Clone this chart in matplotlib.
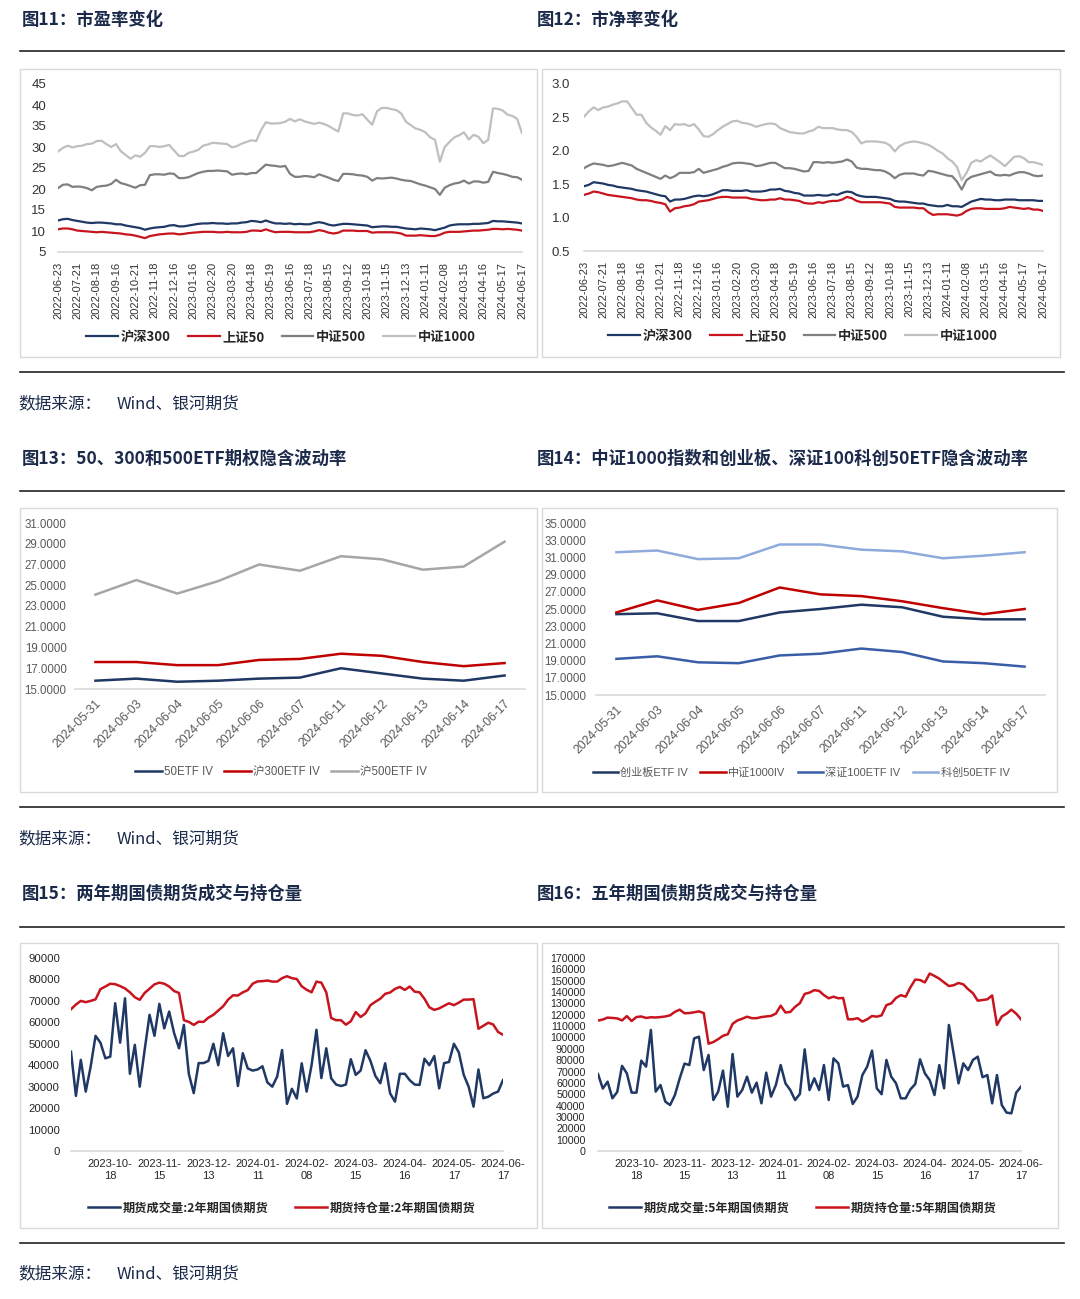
import matplotlib
matplotlib.use('Agg')
import matplotlib.pyplot as plt
from matplotlib.patches import Rectangle
from matplotlib.lines import Line2D
import numpy as np

W, H = 1080, 1299
plt.rcParams['font.family'] = ['Liberation Sans', 'Noto Sans CJK SC', 'DejaVu Sans']
CJK = ['Noto Sans CJK SC', 'DejaVu Sans']
SANS = ['Liberation Sans', 'Noto Sans CJK SC']

# ---------------- data ----------------
val_dates = ['2022-06-23', '2022-07-21', '2022-08-18', '2022-09-16', '2022-10-21', '2022-11-18',
             '2022-12-16', '2023-01-16', '2023-02-20', '2023-03-20', '2023-04-18', '2023-05-19',
             '2023-06-16', '2023-07-18', '2023-08-15', '2023-09-12', '2023-10-18', '2023-11-15',
             '2023-12-13', '2024-01-11', '2024-02-08', '2024-03-15', '2024-04-16', '2024-05-17',
             '2024-06-17']
val_day = list(range(0, 481, 5))   # trading-day index of each sample
val_tick_day = list(range(0, 481, 20))

pe_hs300 = [12.5, 12.8, 12.9, 12.6, 12.4, 12.2, 12.0, 11.9, 12.0, 12.0,
            11.9, 11.8, 11.6, 11.6, 11.3, 11.1, 10.9, 10.7, 10.3, 10.6,
            10.8, 10.9, 11.0, 11.3, 11.4, 11.1, 11.1, 11.3, 11.5, 11.7,
            11.8, 11.8, 11.9, 11.8, 11.8, 11.7, 11.8, 11.8, 12.0, 12.1,
            12.4, 12.3, 12.1, 12.5, 12.1, 11.8, 11.8, 11.7, 11.8, 11.6,
            11.7, 11.6, 11.6, 11.9, 12.1, 11.9, 11.5, 11.3, 11.5, 11.7,
            11.7, 11.6, 11.5, 11.4, 11.3, 10.9, 11.0, 11.1, 11.1, 11.0,
            11.0, 10.8, 10.6, 10.5, 10.4, 10.6, 10.5, 10.4, 10.2, 10.5,
            10.8, 11.3, 11.5, 11.6, 11.6, 11.6, 11.7, 11.7, 11.8, 11.9,
            12.4, 12.3, 12.3, 12.2, 12.1, 12.0, 11.8]
pe_sz50 = [10.4, 10.6, 10.6, 10.4, 10.1, 10.0, 9.9, 9.8, 9.7, 9.8,
           9.7, 9.6, 9.5, 9.4, 9.2, 9.1, 8.9, 8.6, 8.3, 8.8,
           9.0, 9.2, 9.3, 9.4, 9.4, 9.2, 9.3, 9.5, 9.6, 9.7,
           9.8, 9.8, 9.8, 9.7, 9.7, 9.8, 9.7, 9.7, 9.7, 9.8,
           10.1, 10.1, 10.0, 10.4, 10.0, 9.7, 9.8, 9.8, 9.8, 9.7,
           9.7, 9.7, 9.7, 9.9, 10.2, 10.0, 9.6, 9.4, 9.6, 10.1,
           10.1, 10.1, 10.0, 10.0, 10.0, 9.6, 9.7, 9.7, 9.7, 9.7,
           9.6, 9.4, 8.9, 8.9, 8.9, 9.0, 8.9, 8.8, 8.8, 9.1,
           9.6, 9.8, 9.8, 9.8, 9.9, 10.0, 10.1, 10.1, 10.2, 10.3,
           10.5, 10.5, 10.4, 10.5, 10.4, 10.3, 10.1]
pe_zz500 = [20.2, 21.0, 21.1, 20.5, 20.6, 20.5, 20.2, 19.7, 20.5, 20.7,
            20.8, 21.2, 22.2, 21.4, 21.1, 20.7, 20.3, 20.9, 21.0, 23.3,
            23.5, 23.5, 23.4, 23.7, 23.6, 22.6, 22.6, 22.8, 23.3, 23.8,
            24.1, 24.3, 24.3, 24.4, 24.3, 24.2, 23.4, 23.6, 23.7, 23.5,
            23.8, 23.8, 24.8, 25.8, 25.6, 25.5, 25.3, 25.5, 23.6, 22.9,
            22.9, 23.1, 23.0, 22.8, 23.5, 23.1, 22.7, 22.2, 21.9, 23.6,
            23.6, 23.5, 23.3, 23.2, 22.9, 22.0, 22.6, 22.5, 22.6, 22.7,
            22.5, 22.2, 22.0, 21.9, 21.5, 21.1, 20.8, 20.4, 20.0, 18.6,
            20.3, 20.9, 21.3, 21.5, 22.0, 21.3, 21.8, 21.8, 21.5, 21.7,
            24.1, 23.8, 23.6, 23.3, 22.9, 22.8, 22.2]
pe_zz1000 = [28.9, 29.8, 30.3, 29.9, 30.2, 30.3, 30.7, 30.8, 31.4, 31.5,
             30.7, 30.0, 30.7, 29.0, 28.1, 27.2, 28.0, 27.7, 28.6, 30.2,
             30.2, 30.0, 30.2, 30.5, 29.2, 27.9, 27.8, 28.6, 28.9, 29.3,
             30.3, 30.6, 31.0, 30.9, 30.8, 30.7, 29.9, 30.2, 30.8, 31.2,
             31.6, 31.4, 34.0, 35.9, 35.6, 35.6, 35.7, 36.0, 36.7, 36.1,
             36.6, 36.1, 35.8, 35.5, 35.8, 35.5, 35.0, 34.3, 33.7, 38.0,
             38.0, 37.6, 37.5, 37.8, 36.5, 35.3, 38.5, 39.3, 39.3, 39.0,
             38.8, 38.0, 36.0, 35.2, 34.4, 34.1, 33.5, 32.3, 31.7, 26.5,
             30.0, 31.2, 32.3, 32.8, 33.5, 31.8, 32.9, 32.4, 30.9, 31.7,
             39.2, 39.1, 38.7, 37.7, 37.4, 36.7, 33.3]

pb_hs300 = [1.47, 1.49, 1.53, 1.52, 1.51, 1.49, 1.48, 1.46, 1.45, 1.44,
            1.43, 1.41, 1.40, 1.39, 1.37, 1.35, 1.33, 1.32, 1.24, 1.27,
            1.27, 1.28, 1.30, 1.32, 1.33, 1.32, 1.33, 1.35, 1.38, 1.41,
            1.41, 1.40, 1.40, 1.40, 1.41, 1.39, 1.39, 1.39, 1.40, 1.42,
            1.42, 1.43, 1.40, 1.39, 1.37, 1.36, 1.33, 1.33, 1.33, 1.34,
            1.33, 1.33, 1.35, 1.34, 1.37, 1.39, 1.38, 1.34, 1.32, 1.31,
            1.31, 1.31, 1.30, 1.29, 1.28, 1.25, 1.24, 1.24, 1.23, 1.22,
            1.21, 1.21, 1.19, 1.18, 1.17, 1.17, 1.19, 1.17, 1.17, 1.16,
            1.20, 1.24, 1.26, 1.28, 1.27, 1.27, 1.26, 1.26, 1.27, 1.27,
            1.27, 1.26, 1.26, 1.26, 1.26, 1.25, 1.25]
pb_sz50 = [1.34, 1.36, 1.39, 1.38, 1.36, 1.34, 1.33, 1.32, 1.31, 1.30,
           1.29, 1.27, 1.26, 1.26, 1.25, 1.23, 1.22, 1.20, 1.09, 1.14,
           1.15, 1.17, 1.18, 1.20, 1.24, 1.25, 1.26, 1.28, 1.30, 1.31,
           1.31, 1.30, 1.30, 1.30, 1.30, 1.28, 1.27, 1.26, 1.26, 1.27,
           1.27, 1.29, 1.27, 1.27, 1.26, 1.25, 1.22, 1.21, 1.21, 1.23,
           1.22, 1.24, 1.25, 1.25, 1.27, 1.31, 1.29, 1.25, 1.23, 1.23,
           1.23, 1.23, 1.23, 1.22, 1.21, 1.16, 1.15, 1.15, 1.15, 1.15,
           1.14, 1.14, 1.08, 1.04, 1.05, 1.05, 1.05, 1.04, 1.03, 1.05,
           1.10, 1.13, 1.14, 1.14, 1.13, 1.13, 1.13, 1.13, 1.14, 1.16,
           1.15, 1.14, 1.13, 1.14, 1.12, 1.12, 1.10]
pb_zz500 = [1.74, 1.78, 1.81, 1.80, 1.79, 1.77, 1.78, 1.80, 1.82, 1.80,
            1.78, 1.73, 1.70, 1.67, 1.64, 1.61, 1.58, 1.63, 1.59, 1.62,
            1.67, 1.67, 1.67, 1.68, 1.73, 1.67, 1.69, 1.71, 1.73, 1.76,
            1.78, 1.81, 1.82, 1.82, 1.81, 1.80, 1.77, 1.78, 1.80, 1.82,
            1.82, 1.78, 1.74, 1.74, 1.73, 1.71, 1.69, 1.70, 1.83, 1.83,
            1.82, 1.83, 1.82, 1.83, 1.84, 1.87, 1.84, 1.75, 1.73, 1.73,
            1.72, 1.71, 1.71, 1.69, 1.65, 1.59, 1.64, 1.66, 1.66, 1.66,
            1.64, 1.63, 1.70, 1.69, 1.67, 1.65, 1.63, 1.62, 1.54, 1.42,
            1.56, 1.61, 1.63, 1.65, 1.67, 1.69, 1.64, 1.63, 1.64, 1.63,
            1.66, 1.68, 1.68, 1.66, 1.63, 1.62, 1.63]
pb_zz1000 = [2.51, 2.59, 2.65, 2.61, 2.65, 2.66, 2.69, 2.71, 2.74, 2.74,
             2.64, 2.54, 2.54, 2.42, 2.35, 2.30, 2.24, 2.37, 2.31, 2.40,
             2.39, 2.40, 2.37, 2.40, 2.32, 2.22, 2.21, 2.25, 2.31, 2.36,
             2.40, 2.44, 2.45, 2.42, 2.41, 2.39, 2.36, 2.38, 2.40, 2.41,
             2.40, 2.34, 2.31, 2.28, 2.27, 2.26, 2.26, 2.29, 2.31, 2.36,
             2.34, 2.34, 2.34, 2.32, 2.31, 2.31, 2.28, 2.21, 2.11, 2.14,
             2.14, 2.14, 2.13, 2.12, 2.08, 1.99, 2.07, 2.11, 2.13, 2.14,
             2.13, 2.11, 2.09, 2.05, 2.00, 1.96, 1.89, 1.84, 1.76, 1.56,
             1.67, 1.82, 1.86, 1.84, 1.89, 1.93, 1.88, 1.83, 1.77, 1.84,
             1.91, 1.92, 1.89, 1.83, 1.83, 1.81, 1.79]

iv_dates = ['2024-05-31', '2024-06-03', '2024-06-04', '2024-06-05', '2024-06-06', '2024-06-07',
            '2024-06-11', '2024-06-12', '2024-06-13', '2024-06-14', '2024-06-17']
iv_50 = [15.8, 16.0, 15.7, 15.8, 16.0, 16.1, 17.0, 16.5, 16.0, 15.8, 16.3]
iv_300 = [17.6, 17.6, 17.3, 17.3, 17.8, 17.9, 18.4, 18.2, 17.6, 17.2, 17.5]
iv_500 = [24.1, 25.5, 24.2, 25.4, 27.0, 26.4, 27.8, 27.5, 26.5, 26.8, 29.2]
iv_cyb = [24.4, 24.5, 23.6, 23.6, 24.6, 25.0, 25.5, 25.2, 24.1, 23.8, 23.8]
iv_zz1000 = [24.6, 26.0, 24.9, 25.7, 27.5, 26.7, 26.5, 25.9, 25.1, 24.4, 25.0]
iv_sz100 = [19.2, 19.5, 18.8, 18.7, 19.6, 19.8, 20.4, 20.0, 18.9, 18.7, 18.3]
iv_kc50 = [31.6, 31.8, 30.8, 30.9, 32.5, 32.5, 31.9, 31.7, 30.9, 31.2, 31.6]

bond_day = list(range(0, 177, 2))   # trading-day index of each sample
bond_tick_day = [16, 36, 56, 76, 96, 116, 136, 156, 176]
bond_tick_labels = ['2023-10-\n18', '2023-11-\n15', '2023-12-\n13', '2024-01-\n11', '2024-02-\n08',
                    '2024-03-\n15', '2024-04-\n16', '2024-05-\n17', '2024-06-\n17']
vol2 = [46300, 25700, 42500, 27700, 39300, 53700, 50500, 43200, 44000, 68900,
        50500, 71200, 36000, 49500, 30000, 47100, 63500, 53700, 68600, 57200,
        65000, 55000, 47900, 58800, 36000, 27000, 41000, 41000, 42000, 50000,
        40000, 54900, 44300, 47900, 30300, 45600, 38500, 37500, 38000, 39500,
        32000, 30000, 34700, 47100, 22000, 29000, 24500, 40900, 27700, 40000,
        56500, 34000, 47900, 33900, 31000, 30300, 31000, 42800, 35500, 37500,
        47000, 42000, 35000, 31600, 40900, 26900, 23000, 36000, 36000, 33000,
        31000, 30800, 43000, 40000, 44300, 29200, 41000, 41500, 50000, 46000,
        35500, 30000, 20700, 38000, 24600, 25300, 26800, 27700, 33100]
oi2 = [66100, 68300, 70000, 69400, 70000, 70700, 75500, 76700, 78000, 77800,
       76900, 75800, 74000, 71700, 70500, 73700, 75700, 77700, 78500, 78000,
       76700, 74600, 73700, 61000, 60200, 58800, 60300, 60200, 62200, 63500,
       65500, 67500, 70600, 72600, 72500, 74000, 75000, 78000, 79100, 79200,
       79500, 79000, 79000, 80600, 81500, 80600, 80200, 76800, 75200, 74000,
       79000, 78500, 74000, 62000, 61000, 61000, 58900, 60500, 64800, 62500,
       64200, 68000, 69600, 71000, 73300, 73900, 75600, 76500, 75100, 76700,
       74300, 74000, 71000, 67000, 65800, 66500, 67700, 68900, 68000, 69200,
       70600, 70600, 70800, 57000, 58400, 59800, 59000, 55500, 54200]
vol5 = [67800, 55000, 61100, 46400, 52000, 75000, 68400, 51400, 51400, 79600,
        74300, 106600, 52300, 58100, 43500, 40500, 49300, 64000, 77000, 75700,
        99200, 100700, 71300, 84600, 44900, 52300, 70800, 39000, 85400, 47900,
        53700, 65500, 51400, 60200, 42000, 69000, 47900, 58100, 75700, 59600,
        53700, 44900, 50200, 89500, 53700, 64000, 53700, 75700, 44900, 81600,
        77200, 56700, 58100, 41400, 47900, 66900, 74300, 88400, 55200, 50000,
        80200, 65500, 59600, 46400, 46400, 54300, 59000, 80700, 68400, 62500,
        49300, 75700, 55200, 111000, 85400, 59600, 77200, 71300, 80200, 83100,
        65000, 66900, 42000, 66900, 40500, 33800, 33200, 51400, 56700]
oi5 = [114900, 115800, 117500, 117200, 116800, 115000, 118800, 114500, 118000, 118500,
       117200, 117800, 117600, 118000, 118500, 119500, 122600, 124500, 121300, 121500,
       122200, 123000, 121500, 94500, 96000, 98500, 101500, 102800, 112000, 115000,
       116500, 118300, 117000, 117000, 118000, 118500, 119000, 121000, 128000, 122000,
       122500, 127000, 130200, 138400, 139500, 141700, 141000, 137300, 134500, 135900,
       134500, 134800, 116000, 116000, 117000, 114000, 116000, 118900, 118300, 119500,
       128500, 130000, 134800, 137300, 135900, 144200, 151000, 150600, 148500, 156300,
       154200, 151800, 148500, 145300, 146000, 148000, 146800, 142500, 139000, 132400,
       133000, 133600, 137000, 111000, 118500, 121000, 124500, 121000, 116000]

# ---------------- styling ----------------
NAVY = '#1F3864'
RED = '#C8141E'
GRAY5 = '#7F7F7F'
GRAY10 = '#BFBFBF'
TITLE_C = '#1B2A4A'
AXIS_C = '#D9D9D9'

fig = plt.figure(figsize=(10.8, 12.99), dpi=100)


def fy(y):
    return 1 - y / H


def add_ax(l, t, r, b):
    ax = fig.add_axes([l / W, 1 - b / H, (r - l) / W, (b - t) / H])
    for s in ['top', 'right', 'left']:
        ax.spines[s].set_visible(False)
    ax.spines['bottom'].set_color(AXIS_C)
    ax.spines['bottom'].set_linewidth(1.2)
    ax.tick_params(length=0)
    ax.patch.set_alpha(0)
    return ax


def box(l, t, r, b):
    fig.add_artist(Rectangle((l / W, 1 - b / H), (r - l) / W, (b - t) / H,
                             transform=fig.transFigure, fill=False, ec=AXIS_C, lw=1.0))


def hline(y, lw=1.2):
    fig.add_artist(Line2D([20 / W, 1064 / W], [fy(y), fy(y)], color='#222222', lw=lw))


def title(x, y, s):
    fig.text(x / W, fy(y), s, fontsize=12.5, fontweight='bold', color=TITLE_C,
             family=CJK, va='center', ha='left')


def source(y):
    fig.text(18 / W, fy(y), '数据来源：', fontsize=12, color=TITLE_C, family=CJK, va='center')
    fig.text(117 / W, fy(y), 'Wind、银河期货', fontsize=12, color=TITLE_C, family=CJK, va='center')


def legend(ax, cx, cy, fs, weight='normal', color='#262626', fam=CJK, hl=2.3, cs=1.4, ncol=4):
    leg = ax.legend(loc='center', bbox_to_anchor=(cx / W, fy(cy)), bbox_transform=fig.transFigure,
                    ncol=ncol, frameon=False, handlelength=hl, handletextpad=0.2, columnspacing=cs,
                    prop={'family': fam, 'size': fs, 'weight': weight}, borderpad=0)
    for t in leg.get_texts():
        t.set_color(color)
    return leg


# separators, titles, sources
for y in [51, 372, 491, 807, 927, 1243]:
    hline(y)
title(22, 20, '图11：市盈率变化')
title(537, 20, '图12：市净率变化')
title(22, 459, '图13：50、300和500ETF期权隐含波动率')
title(537, 459, '图14：中证1000指数和创业板、深证100科创50ETF隐含波动率')
title(22, 894, '图15：两年期国债期货成交与持仓量')
title(537, 894, '图16：五年期国债期货成交与持仓量')
source(404)
source(839)
source(1274)

# boxes
box(20, 69, 537, 357)
box(542, 69, 1060, 357)
box(20, 508, 537, 792)
box(542, 508, 1057, 792)
box(20, 943, 537, 1228)
box(542, 943, 1058, 1228)

# ---------- panel 1: PE ----------
ax = add_ax(58, 84, 522, 252)
ax.plot(val_day, pe_hs300, color=NAVY, lw=1.6, label='沪深300')
ax.plot(val_day, pe_sz50, color=RED, lw=1.6, label='上证50')
ax.plot(val_day, pe_zz500, color=GRAY5, lw=1.6, label='中证500')
ax.plot(val_day, pe_zz1000, color=GRAY10, lw=1.6, label='中证1000')
ax.set_xlim(0, 480)
ax.set_ylim(5, 45)
ax.set_yticks(range(5, 46, 5))
ax.set_yticklabels([str(v) for v in range(5, 46, 5)], fontsize=9.5, color='#333333')
ax.tick_params(axis='y', pad=8.5)
ax.set_xticks(val_tick_day)
ax.set_xticklabels(val_dates, rotation=90, fontsize=8, family=SANS, color='#333333')
ax.tick_params(axis='x', pad=7)
legend(ax, 281, 337, 9.5, weight='bold', hl=2.4, cs=1.3)

# ---------- panel 2: PB ----------
ax = add_ax(584, 84, 1043, 251)
ax.plot(val_day, pb_hs300, color=NAVY, lw=1.6, label='沪深300')
ax.plot(val_day, pb_sz50, color=RED, lw=1.6, label='上证50')
ax.plot(val_day, pb_zz500, color=GRAY5, lw=1.6, label='中证500')
ax.plot(val_day, pb_zz1000, color=GRAY10, lw=1.6, label='中证1000')
ax.set_xlim(0, 480)
ax.set_ylim(0.5, 3.0)
pb_ticks = [0.5, 1.0, 1.5, 2.0, 2.5, 3.0]
ax.set_yticks(pb_ticks)
ax.set_yticklabels(['%.1f' % v for v in pb_ticks], fontsize=9.5, color='#333333')
ax.tick_params(axis='y', pad=10)
ax.set_xticks(val_tick_day)
ax.set_xticklabels(val_dates, rotation=90, fontsize=8, family=SANS, color='#333333')
ax.tick_params(axis='x', pad=7)
legend(ax, 803, 336, 9.5, weight='bold', hl=2.4, cs=1.3)

# ---------- panel 3: IV 50/300/500 ----------
ax = add_ax(75, 523, 525, 689)
xi = np.arange(len(iv_dates))
ax.plot(xi, iv_50, color=NAVY, lw=1.8, label='50ETF IV')
ax.plot(xi, iv_300, color='#C00000', lw=1.8, label='沪300ETF IV')
ax.plot(xi, iv_500, color='#A6A6A6', lw=1.8, label='沪500ETF IV')
ax.set_xlim(-0.5, len(iv_dates) - 0.5)
ax.set_ylim(15, 31)
t3 = list(range(15, 32, 2))
ax.set_yticks(t3)
ax.set_yticklabels(['%.4f' % v for v in t3], fontsize=8.3, family=SANS, color='#595959')
ax.tick_params(axis='y', pad=6)
ax.set_xticks(xi)
ax.set_xticklabels(iv_dates, rotation=45, ha='right', va='top', rotation_mode='anchor',
                   fontsize=8.8, family=SANS, color='#595959')
ax.tick_params(axis='x', pad=6)
legend(ax, 281, 772, 8.3, fam=SANS, color='#595959', hl=2.3, cs=1.0)

# ---------- panel 4: IV others ----------
ax = add_ax(596, 523, 1045, 695)
ax.plot(xi, iv_cyb, color=NAVY, lw=1.8, label='创业板ETF IV')
ax.plot(xi, iv_zz1000, color='#C00000', lw=1.8, label='中证1000IV')
ax.plot(xi, iv_sz100, color='#3A5DA8', lw=1.8, label='深证100ETF IV')
ax.plot(xi, iv_kc50, color='#8FAADC', lw=1.8, label='科创50ETF IV')
ax.set_xlim(-0.5, len(iv_dates) - 0.5)
ax.set_ylim(15, 35)
t4 = list(range(15, 36, 2))
ax.set_yticks(t4)
ax.set_yticklabels(['%.4f' % v for v in t4], fontsize=8.3, family=SANS, color='#595959')
ax.tick_params(axis='y', pad=7)
ax.set_xticks(xi)
ax.set_xticklabels(iv_dates, rotation=45, ha='right', va='top', rotation_mode='anchor',
                   fontsize=8.8, family=SANS, color='#595959')
ax.tick_params(axis='x', pad=6)
legend(ax, 801, 773, 8.0, fam=SANS, color='#595959', hl=2.3, cs=1.1)

# ---------- panel 5: 2Y bond futures ----------
ax = add_ax(71, 958, 503, 1151)
ax.plot(bond_day, vol2, color=NAVY, lw=1.8, label='期货成交量:2年期国债期货')
ax.plot(bond_day, oi2, color=RED, lw=1.8, label='期货持仓量:2年期国债期货')
ax.set_xlim(0, 176)
ax.set_ylim(0, 90000)
t5 = list(range(0, 90001, 10000))
ax.set_yticks(t5)
ax.set_yticklabels([str(v) for v in t5], fontsize=8.2, family=SANS, color='#262626')
ax.tick_params(axis='y', pad=8)
ax.set_xticks(bond_tick_day)
ax.set_xticklabels(bond_tick_labels, fontsize=8, family=SANS, color='#262626',
                   linespacing=1.25)
ax.tick_params(axis='x', pad=6)
legend(ax, 282, 1208, 8.8, weight='bold', hl=2.6, cs=2.2, ncol=2)

# ---------- panel 6: 5Y bond futures ----------
ax = add_ax(598, 958, 1021, 1151)
ax.plot(bond_day, vol5, color=NAVY, lw=1.8, label='期货成交量:5年期国债期货')
ax.plot(bond_day, oi5, color=RED, lw=1.8, label='期货持仓量:5年期国债期货')
ax.set_xlim(0, 176)
ax.set_ylim(0, 170000)
t6 = list(range(0, 170001, 10000))
ax.set_yticks(t6)
ax.set_yticklabels([str(v) for v in t6], fontsize=7.7, family=SANS, color='#262626')
ax.tick_params(axis='y', pad=9)
ax.set_xticks(bond_tick_day)
ax.set_xticklabels(bond_tick_labels, fontsize=8, family=SANS, color='#262626',
                   linespacing=1.25)
ax.tick_params(axis='x', pad=6)
legend(ax, 803, 1208, 8.8, weight='bold', hl=2.6, cs=2.2, ncol=2)

fig.savefig('out.png', dpi=100)
